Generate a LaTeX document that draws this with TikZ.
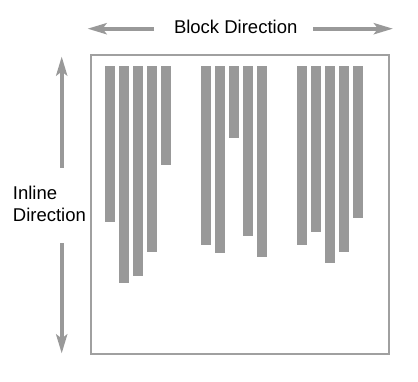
\documentclass[tikz,border=0pt]{standalone}
\usepackage{fontspec}
\setmainfont{Liberation Sans}
\usetikzlibrary{arrows.meta}
\definecolor{bargray}{HTML}{999999}
\definecolor{framegray}{HTML}{A0A0A0}
\begin{document}
\begin{tikzpicture}[x=1pt,y=-1pt,
  bar/.style={fill=bargray,draw=none},
  frame/.style={draw=framegray,line width=1.6pt},
  dirarrow/.style={draw=bargray,line width=4pt,-{Stealth[length=19pt,width=11pt,inset=4pt]}},
  lbl/.style={font=\fontsize{18.5}{22.3}\selectfont,inner sep=0pt}]
\useasboundingbox (0,0) rectangle (418,382);
\node[frame,minimum width=298pt,minimum height=299pt,inner sep=0pt,anchor=north west] (box) at (90,54) {};
% group 1
\foreach \x/\b in {105/222.3,119/282.7,133/276.3,147/252,161/165.3}{
  \fill[bar] (\x,65.7) rectangle (\x+10,\b);}
% group 2
\foreach \x/\b in {201/245.3,215/252.7,229/138.3,243/236,257/257.3}{
  \fill[bar] (\x,65.7) rectangle (\x+10,\b);}
% group 3
\foreach \x/\b in {297/245.3,311/232.3,325/263.3,339/252,353/218.3}{
  \fill[bar] (\x,65.7) rectangle (\x+10,\b);}
% labels
\node[lbl,anchor=base] (blk) at (235.7,33.3) {Block Direction};
\node[lbl,anchor=base west,align=left] (inl) at (12.7,221.7) {Inline\\Direction};
% arrows
\coordinate (hl0) at (154,28.7); \coordinate (hl1) at (87.5,28.7);
\coordinate (hr0) at (313,28.7); \coordinate (hr1) at (393,28.7);
\coordinate (vu0) at (61.7,167.7); \coordinate (vu1) at (61.7,56.5);
\coordinate (vd0) at (61.7,243.3); \coordinate (vd1) at (61.7,353.5);
\draw[dirarrow] (hl0) -- (hl1);
\draw[dirarrow] (hr0) -- (hr1);
\draw[dirarrow] (vu0) -- (vu1);
\draw[dirarrow] (vd0) -- (vd1);
\end{tikzpicture}
\end{document}
